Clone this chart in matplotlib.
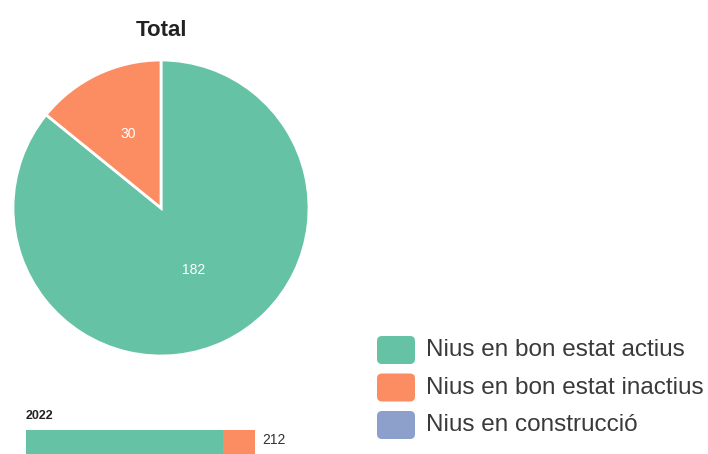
import matplotlib.pyplot as plt
from matplotlib.patches import FancyBboxPatch

# dades
categories = ["Nius en bon estat actius", "Nius en bon estat inactius", "Nius en construcció"]
colors = ["#66c2a5", "#fc8d62", "#8da0cb"]
total_values = [182, 30, 0]
year_label = "2022"
year_values = [182, 30, 0]

W, H = 708, 454
plt.rcParams["font.family"] = ["Liberation Sans", "DejaVu Sans"]
fig = plt.figure(figsize=(W / 100, H / 100), dpi=100)
fig.patch.set_facecolor("white")


def px_axes(x0, y0, x1, y1):
    """Axes a partir de coordenades en pixels (origen a dalt a l'esquerra)"""
    return fig.add_axes([x0 / W, 1 - y1 / H, (x1 - x0) / W, (y1 - y0) / H])


# Pastis total
ax_pie = px_axes(13, 60, 309, 356)
vals = [v for v in total_values if v > 0]
cols = [c for v, c in zip(total_values, colors) if v > 0]
wedges, texts = ax_pie.pie(
    vals,
    colors=cols,
    startangle=90,
    counterclock=False,
    radius=1,
    labels=[str(v) for v in vals],
    labeldistance=0.5,
    wedgeprops=dict(edgecolor="white", linewidth=2),
    textprops=dict(color="white", fontsize=10),
)
texts[0].set_position((0.22, -0.42))
texts[1].set_position((-0.22, 0.50))
for t in texts:
    t.set_ha("center")
    t.set_va("center")
ax_pie.set_xlim(-1, 1)
ax_pie.set_ylim(-1, 1)
ax_pie.set_aspect("equal")
ax_pie.axis("off")
fig.text(161 / W, 1 - 30 / H, "Total", ha="center", va="center",
         fontsize=16, fontweight="bold", color="#222222")

# Barra 2022
ax_bar = px_axes(26, 430, 255, 470)
left = 0
for v, c in zip(year_values, colors):
    if v > 0:
        ax_bar.barh(0.5, v, left=left, height=1, color=c)
        left += v
ax_bar.set_xlim(0, sum(year_values))
ax_bar.set_ylim(0, 1)
ax_bar.axis("off")
fig.text(262 / W, 1 - 440 / H, str(sum(year_values)), ha="left", va="center",
         fontsize=10, color="#333333")
fig.text(26 / W, 1 - 416 / H, year_label, ha="left", va="center",
         fontsize=9, fontweight="bold", color="#222222")

# Llegenda
ax_leg = fig.add_axes([0, 0, 1, 1], zorder=-1)
ax_leg.set_xlim(0, W)
ax_leg.set_ylim(H, 0)
ax_leg.axis("off")
for i, (cat, c) in enumerate(zip(categories, colors)):
    yc = 350 + i * 37.5
    ax_leg.add_patch(FancyBboxPatch((377, yc - 14), 38, 28,
                                    boxstyle="round,pad=0,rounding_size=5",
                                    facecolor=c, edgecolor="none"))
    ax_leg.text(426, yc, cat, ha="left", va="center", fontsize=17.5, color="#3a3a3a")

fig.savefig("out.png", dpi=100)
